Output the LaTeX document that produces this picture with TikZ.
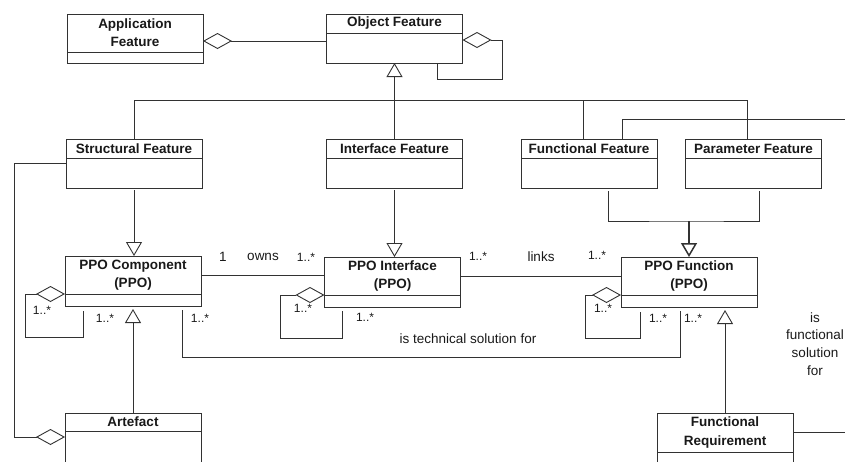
\documentclass[tikz,border=0pt]{standalone}
\usepackage{fontspec}
\setmainfont{Liberation Sans}
\usepackage{tikz}
\usetikzlibrary{arrows.meta, calc, positioning}
\definecolor{umlGray}{RGB}{50,50,50}
\definecolor{umlText}{RGB}{25,25,25}
\newcommand{\classfont}{\fontsize{13.5}{18}\selectfont\bfseries}
\newcommand{\multfont}{\fontsize{12}{14}\selectfont}
\newcommand{\assocfont}{\fontsize{13.5}{17.7}\selectfont}
\tikzset{
  uml/.style={draw=umlGray, line width=0.9pt},
  classhead/.style={uml, fill=white, minimum width=136pt, minimum height=19pt,
    inner sep=1pt, outer sep=0pt, align=center, anchor=north,
    font=\classfont, text=umlText},
  classbody/.style={uml, minimum width=136pt, minimum height=30pt,
    inner sep=0pt, outer sep=0pt},
  aggr/.style={uml, -{Diamond[open, length=29pt, width=16pt]}},
  gen/.style={uml, -{Triangle[open, length=14pt, width=16pt]}},
  mult/.style={font=\multfont, text=umlText, inner sep=0pt},
  assoc/.style={font=\assocfont, text=umlText, inner sep=0pt, align=center}
}

\begin{document}
\begin{tikzpicture}[x=1pt, y=-1pt]
  \useasboundingbox (0,0) rectangle (845,461);

  % classes
  \node[classhead, minimum height=38pt] (appf) at (135,14) {Application\\Feature};
  \node[classbody, minimum height=11pt, below=0pt of appf] (appfb) {};
  \node[classhead] (objf) at (394.5,14) {Object Feature};
  \node[classbody, below=0pt of objf] (objfb) {};
  \node[classhead] (strf) at (134,139) {Structural Feature};
  \node[classbody, below=0pt of strf] (strfb) {};
  \node[classhead] (intf) at (394.5,139) {Interface Feature};
  \node[classbody, below=0pt of intf] (intfb) {};
  \node[classhead] (funf) at (589,139) {Functional Feature};
  \node[classbody, below=0pt of funf] (funfb) {};
  \node[classhead] (parf) at (753.5,139) {Parameter Feature};
  \node[classbody, below=0pt of parf] (parfb) {};
  \node[classhead, minimum height=38pt] (ppoc) at (133,256) {PPO Component\\(PPO)};
  \node[classbody, minimum height=12pt, below=0pt of ppoc] (ppocb) {};
  \node[classhead, minimum height=38pt] (ppoi) at (392.5,257) {PPO Interface\\(PPO)};
  \node[classbody, minimum height=12pt, below=0pt of ppoi] (ppoib) {};
  \node[classhead, minimum height=38pt] (ppof) at (689,257) {PPO Function\\(PPO)};
  \node[classbody, minimum height=12pt, below=0pt of ppof] (ppofb) {};
  \node[classhead, minimum height=18pt] (artf) at (133,413) {Artefact};
  \node[classbody, minimum height=40pt, below=0pt of artf] (artfb) {};
  \node[classhead, minimum height=39pt] (freq) at (725,413) {Functional\\Requirement};
  \node[classbody, minimum height=40pt, below=0pt of freq] (freqb) {};

  % top level
  \coordinate (aggA) at ([yshift=-8pt]appf.east);
  \draw[aggr] (aggA -| objfb.west) -- (aggA);
  \draw[aggr] ([xshift=42.5pt]objfb.south) -- ++(0,16) -| ($(objfb.east)+(40,-8)$)
    -- ([yshift=8pt]objfb.east);
  \draw[gen] (intf.north) -- (objfb.south);
  \draw[uml] (strf.north) -- ++(0,-39) -| ([xshift=-6.5pt]parf.north);
  \draw[uml] ([xshift=-6pt]funf.north) -- ++(0,-39);
  \coordinate (offtop) at (846,119);
  \draw[uml] ([xshift=33pt]funf.north) |- (offtop);

  % features to PPO classes
  \draw[gen, shorten <=2pt] (strfb.south) -- (strfb.south |- ppoc.north);
  \draw[gen, shorten <=2pt] (intfb.south) -- (intfb.south |- ppoi.north);
  \coordinate (fjoin) at ($(ppof.north)+(0,-36)$);
  \draw[uml, shorten <=3pt, shorten >=3pt] ([xshift=19pt]funfb.south) |- (fjoin)
    -| ([xshift=5.5pt]parfb.south);
  \draw[gen, line width=1.5pt] (fjoin) -- (ppof.north);

  % self aggregations
  \draw[aggr] ([xshift=-50pt,yshift=-5pt]ppocb.south) -- ++(0,26) -- ++(-58,0)
    |- (ppoc.south west);
  \draw[aggr] ([xshift=-50.5pt,yshift=-4pt]ppoib.south) -- ++(0,27) -- ++(-62,0)
    |- (ppoi.south west);
  \draw[aggr] ([xshift=-49pt,yshift=-5pt]ppofb.south) -- ++(0,26) -- ++(-55,0)
    |- (ppof.south west);

  % associations
  \draw[uml] (ppoc.east) -- (ppoc.east -| ppoi.west);
  \draw[uml] (ppoi.east) -- (ppoi.east -| ppof.west);
  \draw[uml] ([xshift=49pt,yshift=-4pt]ppocb.south) -- ++(0,47)
    -| ([xshift=-9pt,yshift=-4pt]ppofb.south);

  % bottom row
  \draw[gen, shorten >=3pt] (artf.north) -- (artf.north |- ppocb.south);
  \draw[aggr] ([yshift=-5pt]strf.south west) -- ++(-52,0) |- ([yshift=-6pt]artf.south west);
  \draw[gen, shorten >=3pt] (freq.north) -- (freq.north |- ppofb.south);
  \coordinate (offright) at (846,0);
  \draw[uml] (freq.east) -- (freq.east -| offright);

  % multiplicities and names
  \node[mult] (m1) at (42,310) {1..*};
  \node[mult] (m2) at (105,318) {1..*};
  \node[mult] (m3) at (303,308) {1..*};
  \node[mult] (m4) at (365,317) {1..*};
  \node[mult] (m5) at (603,308) {1..*};
  \node[mult] (m6) at (658,318) {1..*};
  \node[mult] (m7) at (200,318) {1..*};
  \node[mult] (m8) at (693,318) {1..*};
  \node[mult] (m9) at (306,257) {1..*};
  \node[mult] (m10) at (478,256) {1..*};
  \node[mult] (m11) at (597,255) {1..*};
  \node[assoc] (one) at (223,257) {1};
  \node[assoc] (owns) at (263,257) {owns};
  \node[assoc] (links) at (541,257) {links};
  \node[assoc] (techsol) at (468,339) {is technical solution for};
  \node[assoc] (funsol) at (815,344) {is\\functional\\solution\\for};
\end{tikzpicture}
\end{document}
